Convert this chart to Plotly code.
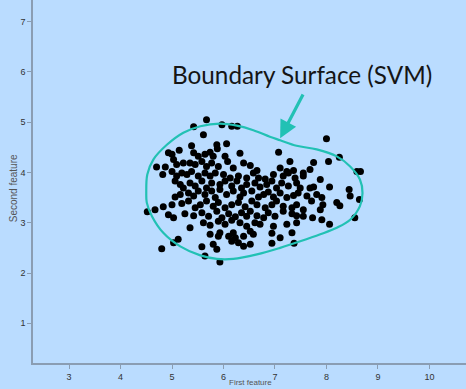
import plotly.graph_objects as go

# ---- data ----
pts_x = [
    5.67, 5.42, 5.61, 5.97, 6.16, 6.27, 6.06, 5.87, 5.88, 7.07, 8.00, 8.25,
    4.93, 5.00, 5.14, 5.38, 5.42, 5.51, 5.64, 5.74, 5.80, 6.03, 6.32, 7.29, 7.75, 8.04,
    4.70, 4.87, 5.03, 5.09, 5.22, 5.35, 5.45, 5.58, 5.67, 5.77, 5.90, 6.08, 6.19, 6.39,
    6.52, 6.65, 7.10, 7.23, 7.36, 7.55, 7.68, 8.59, 8.66,
    4.82, 5.00, 5.09, 5.19, 5.29, 5.38, 5.51, 5.64, 5.74, 5.84, 6.00, 6.13, 6.29, 6.45,
    6.58, 6.68, 6.81, 6.97, 7.16, 7.26, 7.39, 7.55, 7.88,
    5.06, 5.16, 5.22, 5.35, 5.45, 5.58, 5.67, 5.77, 5.93, 6.03, 6.16, 6.26, 6.35, 6.45,
    6.61, 6.71, 6.84, 6.94, 7.03, 7.13, 7.26, 7.42, 7.49, 7.68, 7.75, 8.06, 8.44,
    5.06, 5.16, 5.32, 5.42, 5.51, 5.64, 5.77, 5.84, 5.93, 6.06, 6.19, 6.32, 6.39, 6.55,
    6.68, 6.78, 6.87, 6.97, 7.10, 7.23, 7.36, 7.45, 7.62, 7.81, 7.91, 8.46, 8.64,
    4.52, 4.67, 4.83, 5.00, 5.19, 5.32, 5.45, 5.55, 5.67, 5.80, 5.90, 6.03, 6.16, 6.29,
    6.42, 6.55, 6.65, 6.81, 6.94, 7.03, 7.16, 7.33, 7.42, 7.55, 7.71, 7.88, 7.93, 8.20, 8.26,
    4.93, 5.03, 5.25, 5.42, 5.58, 5.71, 5.87, 5.97, 6.10, 6.23, 6.35, 6.45, 6.52, 6.65,
    6.78, 6.87, 7.00, 7.16, 7.33, 7.42, 7.55, 7.73, 7.91, 8.55,
    5.35, 5.61, 5.74, 5.90, 6.03, 6.16, 6.32, 6.45, 6.61, 6.71, 6.97, 7.23, 7.42, 8.06,
    5.12, 5.03, 5.74, 5.90, 5.93, 6.10, 6.19, 6.23, 6.39, 6.52, 6.58, 6.94, 7.10, 7.33,
    4.80, 5.58, 5.64, 5.80, 5.87, 6.16, 6.29, 6.39, 6.52, 6.94, 7.37, 5.93,
]
pts_y = [
    5.05, 4.91, 4.75, 4.95, 4.92, 4.92, 4.57, 4.55, 4.47, 4.40, 4.67, 4.30,
    4.39, 4.36, 4.44, 4.53, 4.39, 4.32, 4.36, 4.40, 4.32, 4.32, 4.38, 4.22, 4.20, 4.22,
    4.11, 4.11, 4.26, 4.16, 4.19, 4.19, 4.16, 4.22, 4.12, 4.19, 4.12, 4.22, 4.09, 4.19,
    4.14, 4.04, 4.09, 4.02, 4.04, 3.99, 4.06, 4.02, 4.02,
    3.96, 4.02, 3.93, 3.99, 3.96, 4.02, 3.93, 3.99, 3.93, 3.99, 3.96, 3.89, 3.93, 3.89,
    3.99, 3.89, 3.87, 3.96, 3.93, 3.99, 3.89, 3.93, 3.86,
    3.83, 3.76, 3.69, 3.79, 3.73, 3.83, 3.69, 3.79, 3.76, 3.83, 3.73, 3.83, 3.69, 3.76,
    3.79, 3.71, 3.76, 3.83, 3.69, 3.79, 3.73, 3.79, 3.69, 3.69, 3.71, 3.71, 3.66,
    3.51, 3.56, 3.59, 3.53, 3.63, 3.56, 3.63, 3.50, 3.66, 3.56, 3.63, 3.51, 3.59, 3.63,
    3.51, 3.56, 3.61, 3.51, 3.59, 3.50, 3.54, 3.59, 3.53, 3.56, 3.50, 3.53, 3.46,
    3.22, 3.26, 3.32, 3.36, 3.38, 3.43, 3.30, 3.36, 3.43, 3.33, 3.40, 3.30, 3.36, 3.40,
    3.32, 3.43, 3.36, 3.30, 3.36, 3.43, 3.33, 3.30, 3.36, 3.26, 3.43, 3.26, 3.36, 3.40, 3.34,
    3.16, 3.10, 3.18, 3.14, 3.20, 3.13, 3.23, 3.10, 3.18, 3.12, 3.20, 3.13, 3.23, 3.14,
    3.10, 3.20, 3.13, 3.23, 3.18, 3.14, 3.13, 3.10, 3.06, 3.10,
    2.90, 3.00, 2.95, 3.03, 2.97, 3.05, 3.00, 2.93, 3.00, 2.97, 2.93, 2.97, 3.00, 2.97,
    2.67, 2.60, 2.77, 2.73, 2.80, 2.73, 2.80, 2.70, 2.73, 2.83, 2.77, 2.79, 2.70, 2.80,
    2.48, 2.52, 2.34, 2.57, 2.47, 2.63, 2.60, 2.53, 2.57, 2.59, 2.59, 2.22,
]

boundary_x = [4.50, 4.52, 4.64, 4.90, 5.22, 5.55, 5.93, 6.26, 6.58, 6.90, 7.10, 7.42,
              7.81, 8.20, 8.46, 8.65, 8.70, 8.65, 8.46, 8.20, 7.88, 7.49, 7.10, 6.65,
              6.19, 5.87, 5.55, 5.16, 4.83, 4.61, 4.51, 4.50]
boundary_y = [3.59, 3.96, 4.26, 4.55, 4.79, 4.92, 4.97, 4.93, 4.84, 4.71, 4.64, 4.53,
              4.46, 4.32, 4.12, 3.86, 3.59, 3.33, 3.06, 2.90, 2.77, 2.63, 2.50, 2.37,
              2.28, 2.28, 2.35, 2.53, 2.80, 3.13, 3.40, 3.59]

x_ticks = [3, 4, 5, 6, 7, 8, 9, 10]
y_ticks = [1, 2, 3, 4, 5, 6, 7]
x_label = "First feature"
y_label = "Second feature"
note_text = "Boundary Surface (SVM)"

BG = "#badcff"
TEAL = "#22c1b4"
AXIS = "#8a9db3"

fig = go.Figure()
fig.add_trace(go.Scatter(x=pts_x, y=pts_y, mode="markers",
                         marker=dict(color="black", size=7, line=dict(width=0)),
                         hoverinfo="skip", showlegend=False))
fig.add_trace(go.Scatter(x=boundary_x, y=boundary_y, mode="lines",
                         line=dict(color=TEAL, width=2.2, shape="spline", smoothing=1.0),
                         hoverinfo="skip", showlegend=False))

# arrow pointing to boundary
fig.add_annotation(x=7.10, y=4.68, ax=7.56, ay=5.58, xref="x", yref="y",
                   axref="x", ayref="y", text="", showarrow=True,
                   arrowhead=2, arrowsize=1.1, arrowwidth=3.2, arrowcolor=TEAL)
fig.add_annotation(x=0.622, y=0.796, xref="paper", yref="paper", text=note_text,
                   showarrow=False, xanchor="center", yanchor="middle",
                   font=dict(family="Lato, Noto Sans, sans-serif", size=24.3, color="#151515"))

fig.add_annotation(x=0.503, y=-0.0689, xref="paper", yref="paper", text=x_label,
                   showarrow=False, xanchor="center", yanchor="bottom", borderpad=0,
                   font=dict(family="Liberation Sans, Arial, sans-serif", size=8, color="#555"))
fig.add_annotation(x=-0.045, y=0.48, xref="paper", yref="paper", text=y_label,
                   showarrow=False, textangle=-90, xanchor="center", yanchor="middle",
                   font=dict(family="Liberation Sans, Arial, sans-serif", size=10, color="#555"))

axis_common = dict(showgrid=False, zeroline=False, showline=True, linecolor=AXIS,
                   linewidth=1.5, ticks="outside", ticklen=4, tickcolor=AXIS,
                   tickfont=dict(family="Liberation Sans, Arial, sans-serif", size=9, color="#333"))
fig.update_xaxes(range=[2.30, 10.71], tickvals=x_ticks, **axis_common)
fig.update_yaxes(range=[0.21, 7.43], tickvals=y_ticks, **axis_common)

fig.update_layout(width=466, height=389, margin=dict(l=33, r=0, t=0, b=26),
                  paper_bgcolor=BG, plot_bgcolor=BG)

fig.write_html("out.html")
